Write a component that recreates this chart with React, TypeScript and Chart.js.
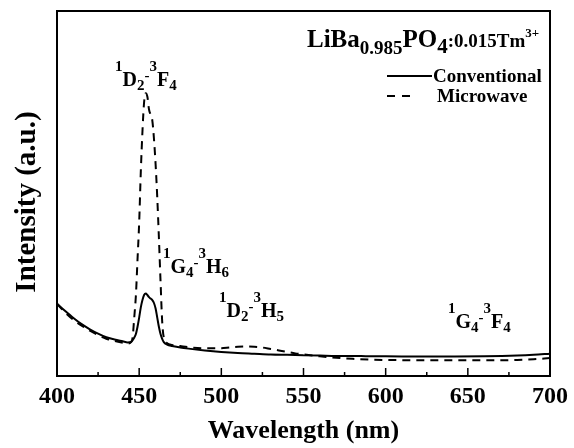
import React, { useEffect, useRef } from "react";
import { Chart, registerables } from "chart.js";

Chart.register(...registerables);

// ---- Data ----
const convWavelength = [400, 405, 410, 415, 420, 425, 430, 435, 440, 443, 445, 447, 448, 449, 450, 451, 452, 453, 454, 455, 456, 457, 458, 459, 460, 461, 462, 463, 464, 465, 467, 470, 475, 480, 490, 500, 510, 520, 530, 540, 550, 560, 570, 580, 590, 600, 620, 640, 660, 680, 690, 700];
const conventional = [19.8, 17.8, 15.9, 14.2, 12.8, 11.6, 10.6, 10.0, 9.5, 9.2, 9.3, 10.5, 11.5, 13.5, 16.0, 18.8, 20.8, 22.2, 22.6, 22.2, 21.6, 21.2, 20.8, 20.0, 18.5, 16.0, 13.5, 11.5, 10.2, 9.3, 8.6, 8.2, 7.8, 7.5, 7.0, 6.6, 6.3, 6.1, 5.9, 5.8, 5.7, 5.6, 5.5, 5.5, 5.4, 5.4, 5.35, 5.35, 5.4, 5.6, 5.8, 6.1];

const microWavelength = [400, 405, 410, 415, 420, 425, 430, 435, 440, 443, 445, 446, 447, 448, 449, 450, 451, 452, 453, 454, 455, 456, 457, 458, 459, 460, 461, 462, 463, 464, 465, 467, 470, 475, 480, 490, 500, 505, 510, 515, 520, 525, 530, 535, 540, 545, 550, 560, 570, 580, 590, 600, 620, 640, 660, 680, 690, 700];
const microwave = [19.8, 17.4, 15.4, 13.8, 12.4, 11.2, 10.2, 9.6, 9.1, 8.9, 9.3, 10.5, 16, 22, 32, 42, 56, 67, 75, 77.5, 76.5, 73, 71.5, 70, 65, 58, 49, 38, 26, 15, 10.5, 9.0, 8.5, 8.2, 7.9, 7.6, 7.6, 7.8, 8.0, 8.1, 8.0, 7.8, 7.4, 7.0, 6.6, 6.2, 5.9, 5.4, 5.0, 4.7, 4.5, 4.4, 4.3, 4.3, 4.3, 4.4, 4.6, 4.9];

const seriesNames = ["Conventional", "Microwave"];
const xMin = 400;
const xMax = 700;
const xMajorStep = 50;
const xMinorStep = 25;
const xTitle = "Wavelength (nm)";
const yTitle = "Intensity (a.u.)";

const FONT = '"Liberation Serif", "Times New Roman", serif';

type Seg = { t: string; size: number; dy: number };

function drawRich(ctx: CanvasRenderingContext2D, x: number, y: number, segs: Seg[]) {
  let cx = x;
  ctx.textAlign = "left";
  ctx.textBaseline = "alphabetic";
  for (const s of segs) {
    ctx.font = `bold ${s.size}px ${FONT}`;
    ctx.fillText(s.t, cx, y + s.dy);
    cx += ctx.measureText(s.t).width;
  }
}

function transition(a: string, an: string, b: string, bn: string): Seg[] {
  return [
    { t: "1", size: 15, dy: -15 },
    { t: a, size: 20, dy: 0 },
    { t: an, size: 15, dy: 4 },
    { t: "-", size: 15, dy: -6 },
    { t: "3", size: 15, dy: -15 },
    { t: b, size: 20, dy: 0 },
    { t: bn, size: 15, dy: 4 },
  ];
}

const overlayPlugin = {
  id: "overlay",
  afterDatasetsDraw(chart: any) {
    const { ctx, chartArea: a, scales } = chart;
    const xs = scales.x;
    ctx.save();
    ctx.fillStyle = "#000";
    ctx.strokeStyle = "#000";

    // frame
    ctx.lineWidth = 2;
    ctx.strokeRect(a.left, a.top, a.right - a.left, a.bottom - a.top);

    // inner ticks
    ctx.lineWidth = 1.5;
    for (let v = xMin + xMinorStep; v < xMax; v += xMinorStep) {
      const px = xs.getPixelForValue(v);
      const len = v % xMajorStep === 0 ? 8 : 4;
      ctx.beginPath();
      ctx.moveTo(px, a.bottom);
      ctx.lineTo(px, a.bottom - len);
      ctx.stroke();
    }

    // y title
    ctx.save();
    ctx.translate(28, 202);
    ctx.rotate(-Math.PI / 2);
    ctx.textAlign = "center";
    ctx.textBaseline = "middle";
    ctx.font = `bold 29px ${FONT}`;
    ctx.fillText(yTitle, 0, 0);
    ctx.restore();

    // sample title
    drawRich(ctx, 307, 47, [
      { t: "LiBa", size: 25, dy: 0 },
      { t: "0.985", size: 19, dy: 7 },
      { t: "PO", size: 25, dy: 0 },
      { t: "4", size: 21, dy: 6 },
      { t: ":0.015Tm", size: 19, dy: 0 },
      { t: "3+", size: 13, dy: -10 },
    ]);

    // legend
    ctx.lineWidth = 2;
    ctx.setLineDash([]);
    ctx.beginPath();
    ctx.moveTo(387, 76);
    ctx.lineTo(432, 76);
    ctx.stroke();
    ctx.setLineDash([8, 7]);
    ctx.beginPath();
    ctx.moveTo(387, 96);
    ctx.lineTo(411, 96);
    ctx.stroke();
    ctx.setLineDash([]);
    ctx.font = `bold 19px ${FONT}`;
    ctx.textAlign = "left";
    ctx.textBaseline = "alphabetic";
    ctx.fillText(seriesNames[0], 433, 82);
    ctx.fillText(seriesNames[1], 437, 102);

    // transition labels
    drawRich(ctx, 115, 86, transition("D", "2", "F", "4"));
    drawRich(ctx, 163, 273, transition("G", "4", "H", "6"));
    drawRich(ctx, 219, 317, transition("D", "2", "H", "5"));
    drawRich(ctx, 448, 328, transition("G", "4", "F", "4"));

    ctx.restore();
  },
};

export default function App() {
  const ref = useRef<HTMLCanvasElement | null>(null);
  useEffect(() => {
    if (!ref.current) return;
    const chart = new Chart(ref.current, {
      type: "line",
      data: {
        datasets: [
          {
            label: seriesNames[0],
            data: convWavelength.map((x, i) => ({ x, y: conventional[i] })),
            borderColor: "#000",
            borderWidth: 2,
            pointRadius: 0,
            fill: false,
            cubicInterpolationMode: "monotone",
          },
          {
            label: seriesNames[1],
            data: microWavelength.map((x, i) => ({ x, y: microwave[i] })),
            borderColor: "#000",
            borderWidth: 2,
            borderDash: [8, 6],
            pointRadius: 0,
            fill: false,
            cubicInterpolationMode: "monotone",
          },
        ],
      },
      options: {
        animation: false,
        responsive: true,
        maintainAspectRatio: false,
        layout: { padding: { top: 11, right: 21, left: 57, bottom: 0 } },
        plugins: { legend: { display: false }, tooltip: { enabled: false } },
        scales: {
          x: {
            type: "linear",
            min: xMin,
            max: xMax,
            afterFit: (s: any) => {
              s.height = 72;
            },
            grid: { display: false, drawTicks: false },
            border: { display: false },
            ticks: {
              stepSize: xMajorStep,
              color: "#000",
              padding: 6,
              font: { family: FONT, size: 24, weight: "bold" },
            },
            title: {
              display: true,
              text: xTitle,
              color: "#000",
              padding: { top: 0, bottom: 1 },
              font: { family: FONT, size: 26, weight: "bold" },
            },
          },
          y: {
            display: false,
            min: 0,
            max: 100,
          },
        },
      },
      plugins: [overlayPlugin],
    });
    return () => chart.destroy();
  }, []);
  return (
    <div style={{ position: "fixed", left: 0, top: 0, width: 574, height: 448, background: "#fff" }}>
      <canvas ref={ref} />
    </div>
  );
}
